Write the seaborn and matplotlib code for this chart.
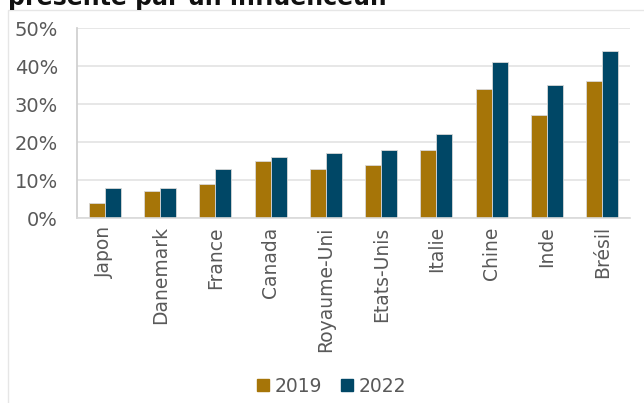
import matplotlib
matplotlib.use("Agg")
import matplotlib.pyplot as plt
import matplotlib.patches as mpatches
import seaborn as sns
import pandas as pd

countries = ["Japon", "Danemark", "France", "Canada", "Royaume-Uni",
             "Etats-Unis", "Italie", "Chine", "Inde", "Brésil"]
values_2019 = [4, 7, 9, 15, 13, 14, 18, 34, 27, 36]
values_2022 = [8, 8, 13, 16, 17, 18, 22, 41, 35, 44]
years = ["2019", "2022"]
y_ticks = [0, 10, 20, 30, 40, 50]
title = "présenté par un influenceur."

df = pd.DataFrame({
    "pays": countries * 2,
    "annee": [years[0]] * len(countries) + [years[1]] * len(countries),
    "part": values_2019 + values_2022,
})

sns.set_theme(style="white")
plt.rcParams["font.family"] = ["DejaVu Sans"]
text_grey = "#595959"

fig = plt.figure(figsize=(6.44, 4.03), dpi=100)
ax = fig.add_axes([0.12, 0.459, 0.858, 0.4715])

palette = {"2019": "#A67508", "2022": "#004766"}
sns.barplot(data=df, x="pays", y="part", hue="annee", hue_order=years,
            palette=palette, width=0.58, saturation=1, ax=ax,
            edgecolor="#d8d8d8", linewidth=0.6, legend=False)

ax.set_ylim(0, 50)
ax.set_yticks(y_ticks)
ax.set_yticklabels([f"{t}%" for t in y_ticks], color=text_grey, fontsize=14)
ax.tick_params(axis="y", length=0, pad=14)
ax.tick_params(axis="x", length=0, pad=6)
plt.setp(ax.get_xticklabels(), rotation=90, color=text_grey, fontsize=13.5)
ax.set_xlabel("")
ax.set_ylabel("")
ax.set_xlim(-0.5, len(countries) - 0.5)
ax.yaxis.grid(True, color="#e3e3e3", linewidth=1.2)
ax.set_axisbelow(True)
for side in ["top", "right"]:
    ax.spines[side].set_visible(False)
ax.spines["left"].set_color("#cfcfcf")
ax.spines["bottom"].set_color("#d9d9d9")
ax.spines["bottom"].set_linewidth(1.2)

handles = [mpatches.Patch(color=palette[y], label=y) for y in years]
leg = fig.legend(handles=handles, loc="center", bbox_to_anchor=(0.515, 0.042),
                 ncol=2, frameon=False, fontsize=13.5, handlelength=0.65,
                 handleheight=0.65, handletextpad=0.3, columnspacing=1.0)
for t in leg.get_texts():
    t.set_color(text_grey)

# outer frame around the chart
fig.patches.append(mpatches.Rectangle((8 / 644, -0.01), 1.0, 1 - 10 / 403 + 0.01,
                                      transform=fig.transFigure, fill=False,
                                      edgecolor="#e6e6e6", linewidth=1.0))

fig.text(8 / 644, 1 - 5 / 403, title, fontsize=17, fontweight="bold",
         color="#111111", va="baseline", ha="left")

fig.savefig("out.png", dpi=100)
